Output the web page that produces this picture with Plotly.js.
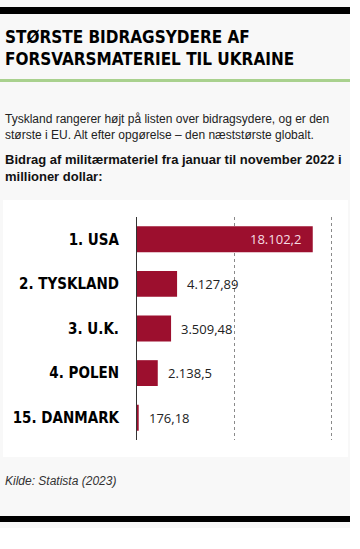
<!DOCTYPE html>
<html>
<head>
<meta charset="utf-8">
<script src="https://cdn.plot.ly/plotly-3.0.1.min.js"></script>
<style>
  html, body { margin: 0; padding: 0; background: #ffffff; }
  #chart { width: 360px; height: 549px; }
</style>
</head>
<body>
<div id="chart"></div>
<script>
// ---- data ----
const categories = ["1. USA", "2. TYSKLAND", "3. U.K.", "4. POLEN", "15. DANMARK"];
const values = [18102.2, 4127.89, 3509.48, 2138.5, 176.18];
const valueLabels = ["18.102,2", "4.127,89", "3.509,48", "2.138,5", "176,18"];
const titleText = "STØRSTE BIDRAGSYDERE AF<br>FORSVARSMATERIEL TIL UKRAINE";
const bodyText = "Tyskland rangerer højt på listen over bidragsydere, og er den<br>største i EU. Alt efter opgørelse – den næststørste globalt.";
const subText = "Bidrag af militærmateriel fra januar til november 2022 i<br>millioner dollar:";
const sourceText = "Kilde: Statista (2023)";

// ---- geometry (pixels) ----
const W = 360, H = 549;
const L = 137, R = 337, T = 217, B = 440;
const xp = px => (px - L) / (R - L);
const yp = py => (B - py) / (B - T);

const barColor = "#9c0f2e";

const trace = {
  type: "bar",
  orientation: "h",
  x: values,
  y: categories,
  marker: { color: barColor },
  width: 0.58,
  hoverinfo: "skip"
};

const maxVal = Math.max(...values);
const valueAnns = values.map((v, i) => {
  const inside = v === maxVal;
  return {
    x: v, y: categories[i], xref: "x", yref: "y",
    text: valueLabels[i], showarrow: false,
    xanchor: inside ? "right" : "left",
    xshift: inside ? -10 : 8,
    font: { family: "Open Sans", size: 13, color: inside ? "#f6dde3" : "#222222" }
  };
});

const textAnns = [
  { text: titleText, x: xp(3), y: yp(25), xanchor: "left", yanchor: "top", align: "left",
    font: { family: "DejaVu Sans Condensed", size: 17, weight: "bold", color: "#000000" } },
  { text: bodyText, x: xp(3), y: yp(110), xanchor: "left", yanchor: "top", align: "left",
    font: { family: "Liberation Sans", size: 12, color: "#222222" } },
  { text: subText, x: xp(3), y: yp(150), xanchor: "left", yanchor: "top", align: "left",
    font: { family: "Liberation Sans", size: 13, weight: "bold", color: "#111111" } },
  { text: sourceText, x: xp(3), y: yp(472), xanchor: "left", yanchor: "top", align: "left",
    font: { family: "Liberation Sans", size: 12, style: "italic", color: "#333333" } }
].map(a => Object.assign({ xref: "paper", yref: "paper", showarrow: false }, a));

const rect = (x0, y0, x1, y1, color) => ({
  type: "rect", xref: "paper", yref: "paper", layer: "below",
  x0: xp(x0), x1: xp(x1), y0: yp(y0), y1: yp(y1),
  fillcolor: color, line: { width: 0 }
});

const layout = {
  width: W, height: H,
  margin: { l: L, r: W - R, t: T, b: H - B, pad: 0 },
  paper_bgcolor: "#ffffff",
  plot_bgcolor: "rgba(0,0,0,0)",
  showlegend: false,
  xaxis: {
    range: [0, 20600], dtick: 10000, tick0: 0,
    showgrid: true, gridcolor: "#8a8a8a", griddash: "dot", gridwidth: 1,
    zeroline: false, showticklabels: false, ticks: "", fixedrange: true
  },
  yaxis: {
    autorange: "reversed",
    showline: true, linecolor: "#333333", linewidth: 1,
    showgrid: false, zeroline: false, ticks: "",
    ticklabelstandoff: 14,
    tickfont: { family: "DejaVu Sans Condensed", size: 15, weight: "bold", color: "#000000" },
    fixedrange: true
  },
  shapes: [
    rect(0, 0, 350, 528, "#f8f8f8"),
    rect(0, 7, 350, 14, "#000000"),
    rect(0, 79, 350, 82, "#a9d18e"),
    rect(3, 200, 348, 457, "#ffffff"),
    rect(0, 516, 350, 522, "#000000")
  ],
  annotations: textAnns.concat(valueAnns)
};

Plotly.newPlot("chart", [trace], layout, { displayModeBar: false, staticPlot: true });
</script>
</body>
</html>
